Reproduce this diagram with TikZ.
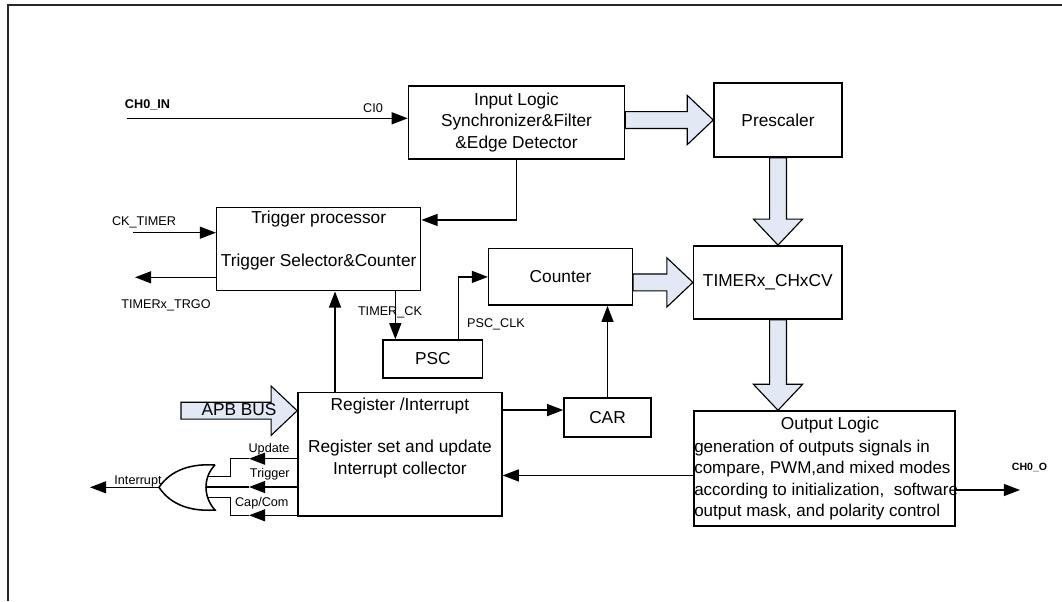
\documentclass[tikz,border=0pt]{standalone}
\usepackage{fontspec}
\setmainfont{Liberation Sans}
\usetikzlibrary{positioning,arrows.meta,calc}
\definecolor{busfill}{RGB}{226,233,245}
\definecolor{framegray}{RGB}{40,40,40}

\begin{document}
\begin{tikzpicture}[
      x=0.025cm, y=-0.025cm,
      font=\fontsize{12.3}{15.2}\selectfont,
      blk/.style={draw, line width=1pt, align=center, inner sep=0pt},
      txt/.style={align=center, inner sep=1pt},
      lbl/.style={font=\fontsize{9}{11}\selectfont, inner sep=1pt},
      pin/.style={font=\fontsize{9}{11}\selectfont\bfseries, inner sep=1pt},
      sig/.style={-{Triangle[length=11.5pt,width=8.5pt]}, line width=1.1pt},
      wire/.style={line width=1.1pt},
      hbus/.style={draw, fill=busfill, line width=.8pt,
        to path={let \p1=(\tikztostart), \p2=(\tikztotarget) in
          (\x1,\y2+6pt) -- (\x2-18.5pt,\y2+6pt) -- (\x2-18.5pt,\y2+17.5pt)
          -- (\x2,\y2) -- (\x2-18.5pt,\y2-17.5pt) -- (\x2-18.5pt,\y2-6pt)
          -- (\x1,\y2-6pt) -- cycle}},
      vbus/.style={draw, fill=busfill, line width=.8pt,
        to path={let \p1=(\tikztostart), \p2=(\tikztotarget) in
          (\x1-6pt,\y1) -- (\x1-6pt,\y2+18.5pt) -- (\x1-17.5pt,\y2+18.5pt)
          -- (\x1,\y2) -- (\x1+17.5pt,\y2+18.5pt) -- (\x1+6pt,\y2+18.5pt)
          -- (\x1+6pt,\y1) -- cycle}}
    ]
      \useasboundingbox (0,0) rectangle (1062,601);
      \draw[line width=1.4pt, framegray] (8,601) -- (8,5) -- (1062,5);

      % blocks
      \node[blk, minimum width=5.4cm, minimum height=1.83cm] (inlogic) at (516.5,122.4)
        {Input Logic\\Synchronizer\&Filter\\\&Edge Detector};
      \node[blk, minimum width=3.2cm, minimum height=1.85cm] (presc) at (778,120) {Prescaler};
      \node[blk, minimum width=5.1cm, minimum height=2.085cm] (trig) at (318.7,249) {};
      \node[txt, below=2pt of trig.north] (trigtxt)
        {Trigger processor\\[15.2pt]Trigger Selector\&Counter};
      \node[blk, minimum width=3.59cm, minimum height=1.41cm] (counter) at (560.5,276.9) {Counter};
      \node[blk, minimum width=3.71cm, minimum height=1.83cm] (timcv) at (767.8,282.4) {TIMERx\_CHxCV};
      \node[blk, minimum width=2.49cm, minimum height=0.95cm] (psc) at (432.9,359) {PSC};
      \node[blk, minimum width=2.175cm, minimum height=0.975cm] (car) at (607.5,417.5) {CAR};
      \node[blk, minimum width=5.1cm, minimum height=3.09cm] (reg) at (399.9,454.2) {};
      \node[txt, below=3pt of reg.north] (regtxt)
        {Register /Interrupt\\[15.2pt]Register set and update\\Interrupt collector};
      \node[blk, minimum width=6.525cm, minimum height=2.87cm] (outlogic) at (824.5,468.4) {};
      \node[txt, below=3.5pt of outlogic.north, xshift=3.9pt] (outtitle) {Output Logic};
      \node[txt, align=left, anchor=north west, inner sep=0.5pt,
        font=\fontsize{12.1}{15.3}\selectfont] (outbody) at ([yshift=-20.2pt]outlogic.north west)
        {generation of outputs signals in\\compare, PWM,and mixed modes\\according to initialization,\ \ software\\output mask, and polarity control};

      % bus arrows
      \draw[hbus] (inlogic.east) to (presc.west);
      \draw[vbus] (presc.south) to (timcv.north -| presc.south);
      \draw[hbus] (counter.east) to (timcv.west);
      \draw[vbus] (timcv.south -| presc.south) to (outlogic.north -| presc.south);
      \coordinate (apb) at (181,410.7);
      \draw[hbus] (apb) to (apb -| reg.west);
      \node (apblbl) at (239,410) {APB BUS};

      % signals
      \coordinate (chin) at (126.7,118.3);
      \draw[sig] (chin) -- (chin -| inlogic.west);
      \node[pin] (chinlbl) at (147.5,105) {CH0\_IN};
      \node[lbl] (ci0lbl) at (373,107.7) {CI0};
      \draw[sig] (inlogic.south) |- ([yshift=-9.5pt]trig.north east);
      \coordinate (cktimer) at (133,232.7);
      \draw[sig] (cktimer) -- (cktimer -| trig.west);
      \node[lbl] (cktimerlbl) at (144,222.7) {CK\_TIMER};
      \coordinate (trgo) at (135,277.3);
      \draw[sig] (trgo -| trig.west) -- (trgo);
      \node[lbl] (trgolbl) at (166,305) {TIMERx\_TRGO};
      \coordinate (tck) at ([xshift=9.2pt]psc.north west);
      \draw[sig] (tck |- trig.south) -- (tck);
      \node[lbl] (timercklbl) at (390,312) {TIMER\_CK};
      \coordinate (pclk) at ([xshift=-17.7pt]psc.north east);
      \draw[sig] (pclk) |- (counter.west);
      \node[lbl] (pscclklbl) at (496,324) {PSC\_CLK};
      \draw[sig] (car.north) -- (car.north |- counter.south);
      \coordinate (carin) at ([yshift=5.3pt]car.west);
      \draw[sig] (carin -| reg.east) -- (carin);
      \coordinate (trgin) at ([xshift=11.6pt]trig.south);
      \draw[sig] (trgin |- reg.north) -- (trgin);
      \coordinate (olin) at ([yshift=-5pt]outlogic.west);
      \draw[sig] (olin) -- (olin -| reg.east);
      \coordinate (cho) at (1020,490);
      \draw[sig] (cho -| outlogic.east) -- (cho);
      \node[pin, font=\fontsize{7.5}{9}\selectfont\bfseries] (cholbl) at (1029.5,467) {CH0\_O};

      % interrupt or gate
      \coordinate (orout) at (159,487.3);
      \coordinate (orin1) at (208,476.3);
      \coordinate (orin2) at (206,487);
      \coordinate (orin3) at (208,497.3);
      \draw[wire] (215,465) .. controls (185,463) and (168,474) .. (orout)
        .. controls (168,501) and (185,512) .. (215,510)
        .. controls (203,497) and (203,477) .. (215,465);
      \coordinate (irq) at (90,487.3);
      \draw[sig] (orout) -- (irq);
      \node[lbl] (irqlbl) at (138,481.7) {Interrupt};

      \coordinate (updtip) at (249,458.7);
      \coordinate (updbend) at (230.4,476.3);
      \draw[sig] (updtip -| reg.west) -- (updtip);
      \draw[wire] (updtip) -| (updbend) -- (orin1);
      \node[lbl] (updlbl) at (269,449.3) {Update};
      \coordinate (trgtip) at (249,487);
      \draw[sig] (trgtip -| reg.west) -- (trgtip);
      \draw[wire] (trgtip) -- (orin2);
      \node[lbl] (trglbl) at (269.8,474.3) {Trigger};
      \coordinate (captip) at (249,515.3);
      \coordinate (capbend) at (230.4,497.3);
      \draw[sig] (captip -| reg.west) -- (captip);
      \draw[wire] (captip) -| (capbend) -- (orin3);
      \node[lbl] (caplbl) at (261.8,503.3) {Cap/Com};
    \end{tikzpicture}
\end{document}
